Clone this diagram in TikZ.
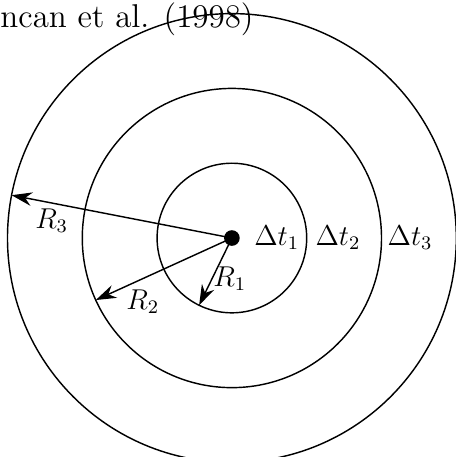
\documentclass[tikz,border=0pt]{standalone}
\usepackage{amsmath}
\usepackage{tikz}
\usetikzlibrary{arrows.meta,positioning,calc}

\begin{document}
\begin{tikzpicture}[
  >={Stealth[length=3mm,width=2mm]},
  ring/.style={draw, line width=0.6pt},
  arr/.style={->, line width=0.6pt},
  lab/.style={font=\fontsize{11.5}{14}\selectfont, inner sep=1pt},
]
\useasboundingbox (-3.41,-3.22) rectangle (3.29,3.50);

% centre and rings
\node[circle, fill=black, inner sep=0pt, minimum size=0.23cm] (c) at (0,0) {};
\draw[ring] (0,0) circle (1.1);
\draw[ring] (0,0) circle (2.2);
\draw[ring] (0,0) circle (3.3);

% radius ends
\coordinate (r1) at (244:1.1);
\coordinate (r2) at (204.5:2.2);
\coordinate (r3) at (169:3.3);

\draw[arr] (c.center) -- (r1);
\draw[arr] (c.center) -- (r2);
\draw[arr] (c.center) -- (r3);

% labels
\node[lab] (lr1) at (-0.03,-0.60) {$R_1$};
\node[lab] (lr2) at (-1.31,-0.94) {$R_2$};
\node[lab] (lr3) at (-2.65,0.25) {$R_3$};

\node[lab] (t1) at (0.66,0) {$\Delta t_1$};
\node[lab] (t2) at (1.56,0) {$\Delta t_2$};
\node[lab] (t3) at (2.62,0) {$\Delta t_3$};

% caption fragment
\node[font=\fontsize{13.8}{16}\selectfont, anchor=base west, inner sep=0pt] (ref) at (-3.41,3.09) {ncan et al. (1998)};
\end{tikzpicture}
\end{document}
